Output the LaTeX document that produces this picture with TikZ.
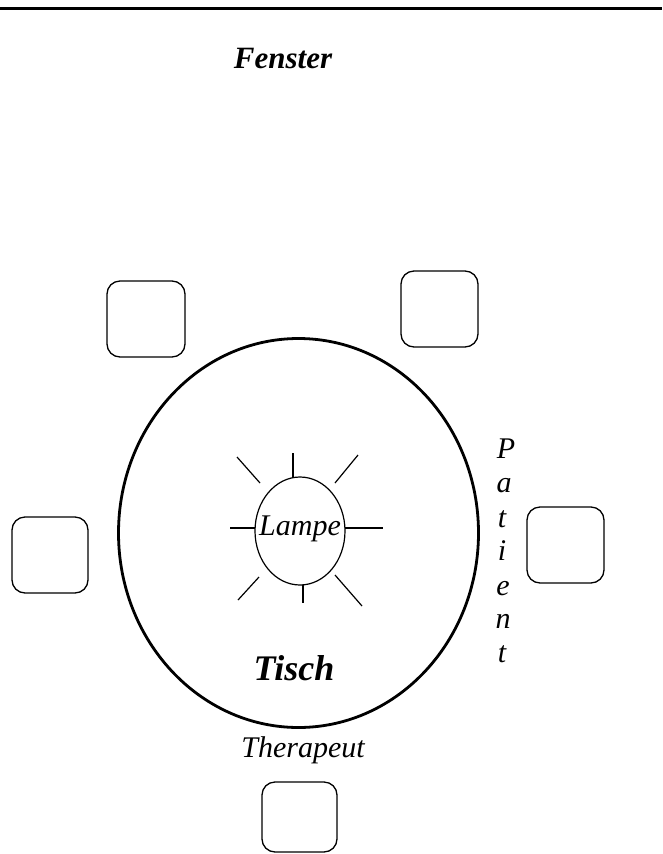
\documentclass[tikz,border=0pt]{standalone}
\usepackage{fontspec}
\setmainfont{Liberation Serif}
\usetikzlibrary{shapes.geometric}
\tikzset{
  chair/.style={draw, rectangle, rounded corners=13pt, line width=1.3pt,
    minimum width=77pt, minimum height=76pt, inner sep=0pt},
  plain/.style={font=\fontsize{30}{36}\selectfont\itshape, inner sep=0pt, anchor=base},
  heading/.style={font=\fontsize{31}{36}\selectfont\bfseries\itshape, inner sep=0pt, anchor=base},
  ray/.style={line width=1.2pt},
}
\begin{document}
\begin{tikzpicture}[x=1pt,y=-1pt]
\useasboundingbox (0,0) rectangle (662,854);

% wall with the window
\draw[line width=3pt] (0,8) -- (662,8);
\node[heading] (fenster) at (283,68) {Fenster};

% table
\node[draw, ellipse, line width=2.8pt, minimum width=360pt, minimum height=389pt,
      inner sep=0pt] (tisch) at (298.5,533) {};
\node[heading, font=\fontsize{36}{40}\selectfont\bfseries\itshape] (tischlabel) at (294,680) {Tisch};

% lamp on the table
\node[draw, ellipse, line width=1.2pt, minimum width=90pt, minimum height=108pt,
      inner sep=0pt] (lamp) at (300,531) {};
\node[plain] (lampe) at (300,535) {Lampe};
\draw[ray] (230,528) -- (255,528);
\draw[ray] (345,528) -- (383,528);
\draw[ray] (293,453) -- (293,478);
\draw[ray] (303,585) -- (303,603);
\draw[ray] (237,457) -- (260,483);
\draw[ray] (358,455) -- (335,483);
\draw[ray] (259,577) -- (238,600);
\draw[ray] (335,575) -- (362,606);

% chairs
\node[chair, minimum width=78pt] (c1) at (146,319) {};
\node[chair] (c2) at (439.5,309) {};
\node[chair, minimum width=76pt] (c3) at (50,555) {};
\node[chair] (c4) at (565.5,545) {};
\node[chair, minimum width=75pt, minimum height=70pt] (c5) at (299.5,817) {};

% seat labels
\node[plain] (therapeut) at (303,757) {Therapeut};
\node[plain] (p1) at (506,458) {P};
\node[plain] (p2) at (504,492) {a};
\node[plain] (p3) at (502,527) {t};
\node[plain] (p4) at (502,560) {i};
\node[plain] (p5) at (503,595) {e};
\node[plain] (p6) at (503,628) {n};
\node[plain] (p7) at (502,662) {t};
\end{tikzpicture}
\end{document}
